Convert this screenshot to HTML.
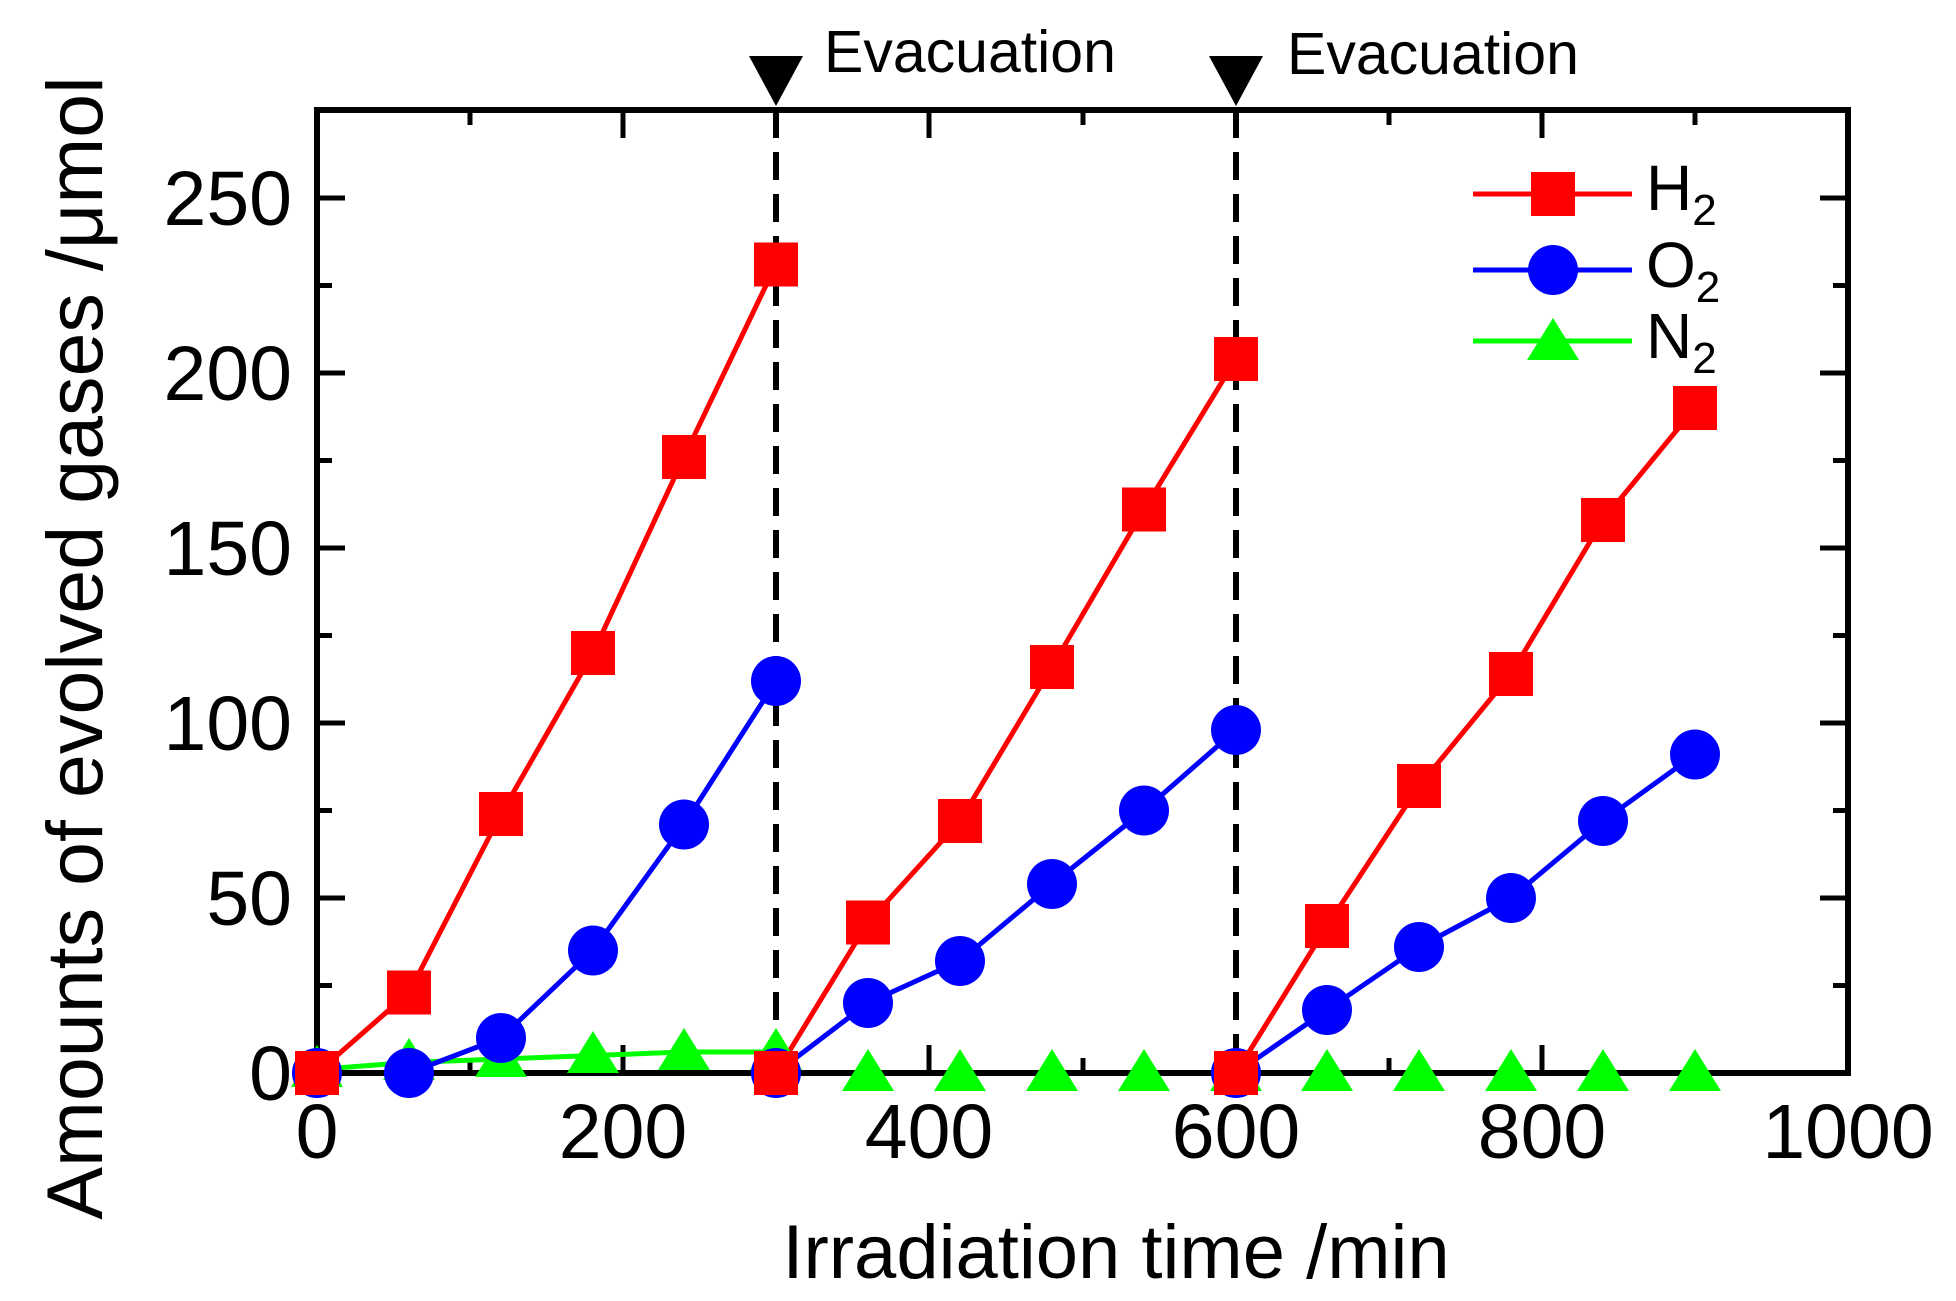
<!DOCTYPE html>
<html><head><meta charset="utf-8"><style>
html,body{margin:0;padding:0;background:#fff;}
svg{display:block;font-family:"Liberation Sans",Arial,sans-serif;}
</style></head><body>
<svg width="1956" height="1301" viewBox="0 0 1956 1301" xmlns="http://www.w3.org/2000/svg">
<rect width="1956" height="1301" fill="#fff"/>
<g stroke="#000" stroke-width="5">
<path d="M623,1073v-28M929,1073v-28M1236,1073v-28M1542,1073v-28M623,110v28M929,110v28M1236,110v28M1542,110v28"/>
<path d="M470,1073v-15M776,1073v-15M1083,1073v-15M1389,1073v-15M1695,1073v-15M470,110v15M776,110v15M1083,110v15M1389,110v15M1695,110v15"/>
<path d="M317,898h28M317,723h28M317,548h28M317,373h28M317,198h28M1848,898h-28M1848,723h-28M1848,548h-28M1848,373h-28M1848,198h-28"/>
<path d="M317,985.5h15M317,810.5h15M317,635.5h15M317,460.5h15M317,285.5h15M1848,985.5h-15M1848,810.5h-15M1848,635.5h-15M1848,460.5h-15M1848,285.5h-15"/>
</g>
<g stroke="#000" stroke-width="6" stroke-dasharray="28,14">
<line x1="776" y1="110" x2="776" y2="1073"/>
<line x1="1236" y1="110" x2="1236" y2="1073"/>
</g>
<g fill="none" stroke-width="5" stroke-linejoin="round">
<polyline stroke="#00ff00" points="317,1069.5 409,1062.5 501,1059 593,1055.5 684,1052 776,1052"/>
<polyline stroke="#00ff00" points="776,1073 1695,1073"/>
<polyline stroke="#0000ff" points="317,1073 409,1073 501,1038 593,950.5 684,824.5 776,681"/>
<polyline stroke="#0000ff" points="776,1073 868,1003 960,961 1052,884 1144,810.5 1236,730"/>
<polyline stroke="#0000ff" points="1236,1073 1327,1010 1419,947 1511,898 1603,821 1695,754.5"/>
<polyline stroke="#ff0000" points="317,1073 409,992.5 501,814 593,653 684,457 776,264.5"/>
<polyline stroke="#ff0000" points="776,1073 868,922.5 960,821 1052,667 1144,509.5 1236,359"/>
<polyline stroke="#ff0000" points="1236,1073 1327,926 1419,786 1511,674 1603,520 1695,408"/>
</g>
<rect x="317" y="110" width="1531" height="963" fill="none" stroke="#000" stroke-width="6"/>
<g fill="#00ff00">
<path d="M317,1045l-26,42h52z"/><path d="M409,1038l-26,42h52z"/><path d="M501,1035l-26,42h52z"/><path d="M593,1031l-26,42h52z"/><path d="M684,1028l-26,42h52z"/><path d="M776,1028l-26,42h52z"/>
<path d="M868,1049l-26,42h52z"/><path d="M960,1049l-26,42h52z"/><path d="M1052,1049l-26,42h52z"/><path d="M1144,1049l-26,42h52z"/><path d="M1236,1049l-26,42h52z"/><path d="M1327,1049l-26,42h52z"/><path d="M1419,1049l-26,42h52z"/><path d="M1511,1049l-26,42h52z"/><path d="M1603,1049l-26,42h52z"/><path d="M1695,1049l-26,42h52z"/>
</g>
<g fill="#0000ff">
<circle cx="317" cy="1073" r="25"/><circle cx="409" cy="1073" r="25"/><circle cx="501" cy="1038" r="25"/><circle cx="593" cy="950.5" r="25"/><circle cx="684" cy="824.5" r="25"/><circle cx="776" cy="681" r="25"/>
<circle cx="776" cy="1073" r="25"/><circle cx="868" cy="1003" r="25"/><circle cx="960" cy="961" r="25"/><circle cx="1052" cy="884" r="25"/><circle cx="1144" cy="810.5" r="25"/><circle cx="1236" cy="730" r="25"/>
<circle cx="1236" cy="1073" r="25"/><circle cx="1327" cy="1010" r="25"/><circle cx="1419" cy="947" r="25"/><circle cx="1511" cy="898" r="25"/><circle cx="1603" cy="821" r="25"/><circle cx="1695" cy="754.5" r="25"/>
</g>
<g fill="#ff0000">
<rect x="295" y="1051" width="44" height="44"/><rect x="387" y="970.5" width="44" height="44"/><rect x="479" y="792" width="44" height="44"/><rect x="571" y="631" width="44" height="44"/><rect x="662" y="435" width="44" height="44"/><rect x="754" y="242.5" width="44" height="44"/>
<rect x="754" y="1051" width="44" height="44"/><rect x="846" y="900.5" width="44" height="44"/><rect x="938" y="799" width="44" height="44"/><rect x="1030" y="645" width="44" height="44"/><rect x="1122" y="487.5" width="44" height="44"/><rect x="1214" y="337" width="44" height="44"/>
<rect x="1214" y="1051" width="44" height="44"/><rect x="1305" y="904" width="44" height="44"/><rect x="1397" y="764" width="44" height="44"/><rect x="1489" y="652" width="44" height="44"/><rect x="1581" y="498" width="44" height="44"/><rect x="1673" y="386" width="44" height="44"/>
</g>
<path d="M749,56h54l-27,50z" fill="#000"/>
<path d="M1209,56h54l-27,50z" fill="#000"/>
<g font-size="59" fill="#000">
<text x="824" y="72">Evacuation</text>
<text x="1287" y="74">Evacuation</text>
</g>
<g stroke-width="5">
<line x1="1473" y1="194" x2="1632" y2="194" stroke="#ff0000"/>
<line x1="1473" y1="270" x2="1632" y2="270" stroke="#0000ff"/>
<line x1="1473" y1="341" x2="1632" y2="341" stroke="#00ff00"/>
</g>
<rect x="1531" y="172" width="44" height="44" fill="#ff0000"/>
<circle cx="1553" cy="270" r="25" fill="#0000ff"/>
<path d="M1553,318l-26,42h52z" fill="#00ff00"/>
<g font-size="64" fill="#000">
<text x="1646" y="210">H<tspan font-size="44" dy="15">2</tspan></text>
<text x="1646" y="287">O<tspan font-size="44" dy="15">2</tspan></text>
<text x="1646" y="358">N<tspan font-size="44" dy="15">2</tspan></text>
</g>
<g font-size="77" fill="#000" text-anchor="middle">
<text x="317" y="1158">0</text><text x="623" y="1158">200</text><text x="929" y="1158">400</text><text x="1236" y="1158">600</text><text x="1542" y="1158">800</text><text x="1848" y="1158">1000</text>
</g>
<g font-size="77" fill="#000" text-anchor="end">
<text x="292" y="1100">0</text><text x="292" y="925">50</text><text x="292" y="750">100</text><text x="292" y="575">150</text><text x="292" y="400">200</text><text x="292" y="225">250</text>
</g>
<text x="1116" y="1278" font-size="76" text-anchor="middle" fill="#000">Irradiation time /min</text>
<text transform="translate(102,648) rotate(-90)" font-size="79" text-anchor="middle" fill="#000">Amounts of evolved gases /μmol</text>
</svg>
</body></html>
